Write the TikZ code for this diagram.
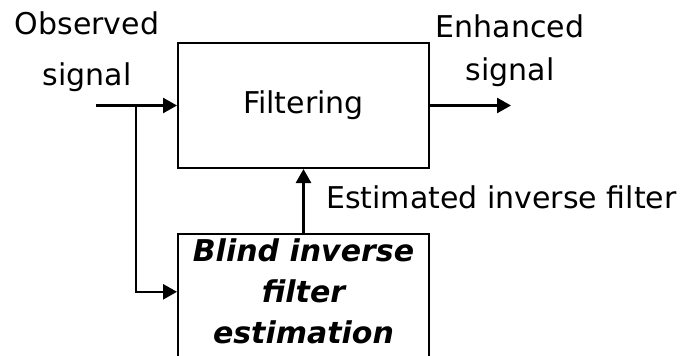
\documentclass[tikz,border=0pt]{standalone}
\usepackage{fontspec}
\setmainfont{DejaVu Sans}
\usetikzlibrary{arrows.meta, positioning}

\begin{document}
\begin{tikzpicture}[x=1pt, y=-1pt,
    bloc/.style={draw, line width=2pt, inner sep=0pt, minimum width=251pt},
    texte/.style={inner sep=0pt, font=\fontsize{30}{40}\selectfont, align=center},
    fleche/.style={line width=2.6pt, -{Triangle[length=14pt, width=15pt]}}]
  \useasboundingbox (0,0) rectangle (689,356);

  % Blocs
  \node[bloc, texte, minimum height=125pt] (filtrage) at (303.5,105.5) {Filtering};
  \node[bloc, minimum height=150pt, anchor=north] (estim) at (303.5,233) {};
  \node[texte, font=\fontsize{30}{41}\selectfont\bfseries\itshape,
        below=6pt of estim.north] (estimtexte) {Blind inverse\\filter\\estimation};

  % Entree et sortie
  \node[texte, anchor=north] (entree) at (87,11.5) {Observed\\[11pt]signal};
  \node[texte, anchor=north] (sortie) at (510,14.5) {Enhanced\\[3pt]signal};
  \coordinate (debut) at (96,105.5);
  \coordinate (branche) at (136,105.5);
  \coordinate (fin) at (511,105.5);

  % Fleches
  \draw[fleche] (debut) -- (filtrage);
  \draw[fleche] (filtrage) -- (fin);
  \draw[fleche] (branche) |- (estim.west |- estimtexte);
  \draw[fleche] (estim) -- (filtrage)
    node[texte, midway, right=21.5pt, yshift=4pt] (filtreestime) {Estimated inverse filter};
\end{tikzpicture}
\end{document}
